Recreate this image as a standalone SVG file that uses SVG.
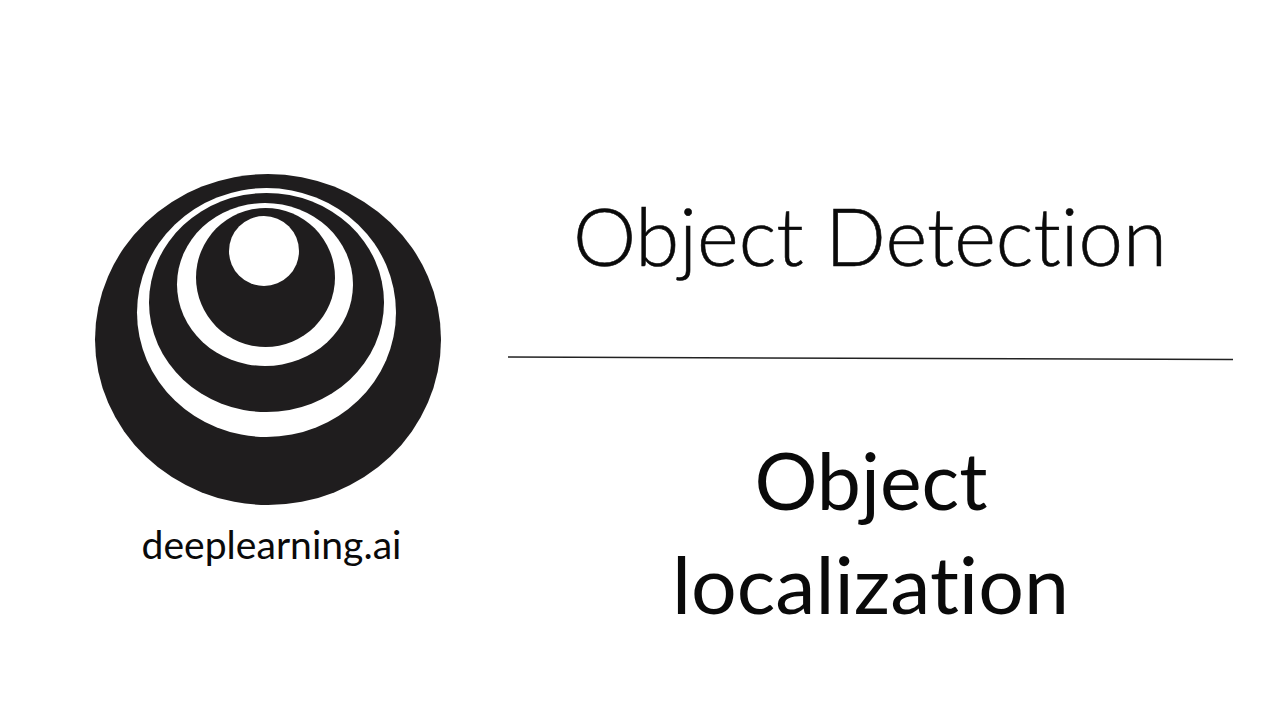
<svg xmlns="http://www.w3.org/2000/svg" width="1280" height="720" viewBox="0 0 1280 720">
<style>
.t{font-family:Lato,"Open Sans",sans-serif;fill:#0a0a0a;text-anchor:middle;font-variant-ligatures:none}
.d{fill:#1f1d1e}
.w{fill:#fff}
</style>
<rect width="1280" height="720" fill="#fff"/>
<g id="logo">
<ellipse class="d" cx="268" cy="339.500" rx="173" ry="165.500"/>
<ellipse class="w" cx="266.500" cy="312.500" rx="129.500" ry="124.500"/>
<ellipse class="d" cx="266.500" cy="302.500" rx="117.500" ry="109.500"/>
<ellipse class="w" cx="265" cy="284.500" rx="88" ry="81.500"/>
<ellipse class="d" cx="265.500" cy="277.500" rx="69.500" ry="69.500"/>
<circle class="w" cx="264" cy="251" r="35"/>
<text class="t" x="271.500" y="558.500" font-size="38" textLength="260" lengthAdjust="spacingAndGlyphs">deeplearning.ai</text>
</g>
<g id="title"><text class="t" x="870" y="266" font-size="80" font-weight="300" stroke="#0a0a0a" stroke-width="0.600" textLength="594" lengthAdjust="spacingAndGlyphs">Object Detection</text></g>
<line id="divider" x1="508" y1="357" x2="1233" y2="359.500" stroke="#222" stroke-width="1.500"/>
<g id="subtitle"><text class="t" x="871" y="509.500" font-size="80" textLength="233" lengthAdjust="spacingAndGlyphs">Object</text>
<text class="t" x="870.500" y="614" font-size="80" textLength="397" lengthAdjust="spacingAndGlyphs">localization</text></g>
</svg>
